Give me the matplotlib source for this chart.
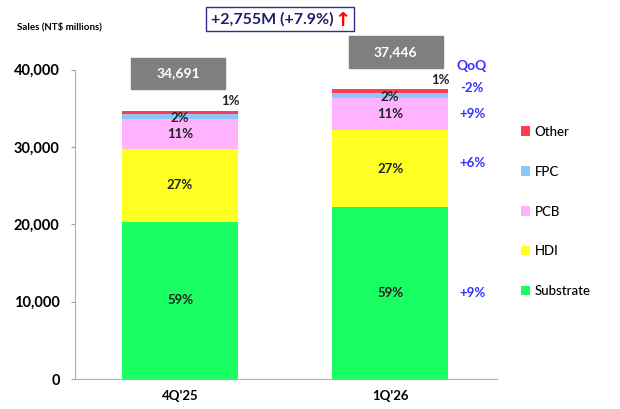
import matplotlib.pyplot as plt
import numpy as np
from matplotlib.patches import Rectangle

plt.rcParams['font.family'] = ['Lato', 'DejaVu Sans']

quarters = ["4Q'25", "1Q'26"]
segments = ['Substrate', 'HDI', 'PCB', 'FPC', 'Other']
colors = ['#19ff62', '#ffff22', '#ffb3ff', '#8ec5ff', '#ff3b50']
q1_vals = [20350, 9400, 3850, 630, 461]     # 4Q'25
q2_vals = [22180, 9960, 4200, 617, 489]     # 1Q'26

data = np.array([q1_vals, q2_vals])
totals = data.sum(axis=1)

fig = plt.figure(figsize=(6.2, 4.09), dpi=100)
ax = fig.add_axes([0.121, 0.0733, 0.681, 0.7567])

x = np.arange(len(quarters))
w = 0.552
bottom = np.zeros(len(quarters))
for i, seg in enumerate(segments):
    ax.bar(x, data[:, i], w, bottom=bottom, color=colors[i], label=seg, zorder=2)
    for j in range(len(quarters)):
        pct = data[j, i] / totals[j] * 100
        mid = bottom[j] + data[j, i] / 2
        if seg == 'Other':
            ax.text(x[j] + 0.24, totals[j] + 1250, '%d%%' % round(pct), ha='center', va='center',
                    fontsize=9.5, fontweight='bold', color='#222222')
        elif seg == 'FPC':
            ax.text(x[j], mid - 150, '%d%%' % round(pct), ha='center', va='center',
                    fontsize=9.5, fontweight='bold', color='#222222')
        else:
            ax.text(x[j], mid, '%d%%' % round(pct), ha='center', va='center',
                    fontsize=9.5, fontweight='bold', color='#222222')
    bottom += data[:, i]

# total boxes above bars
box_dx = [-0.01, 0.026]
for j in range(len(quarters)):
    ax.add_patch(Rectangle((x[j] + box_dx[j] - 0.224, totals[j] + 2750), 0.448, 4100,
                           color='#7f7f7f', clip_on=False, zorder=3))
    ax.text(x[j] + box_dx[j], totals[j] + 2750 + 2050, '{:,}'.format(totals[j]),
            ha='center', va='center', color='white', fontsize=10, fontweight='bold', zorder=4)

# QoQ column
qoq = (data[1] / data[0] - 1) * 100
ax.text(1.39, 40450, 'QoQ', ha='center', va='center', color='#3333ff', fontsize=10,
        fontweight='bold', clip_on=False)
mids = np.cumsum(data[1]) - data[1] / 2
qoq_y = [mids[0], mids[1] + 800, mids[2], totals[1] + 200]
for i in range(4):
    ax.text(1.39, qoq_y[i], '%+d%%' % round(qoq[i]), ha='center', va='center',
            color='#3333ff', fontsize=9.5, fontweight='bold', clip_on=False)

ax.set_xlim(-0.5, 1.51)
ax.set_ylim(0, 40000)
ax.set_xticks(x)
ax.set_xticklabels(quarters, fontsize=9.5, fontweight='bold')
ax.tick_params(axis='x', length=0, pad=8)
ax.set_yticks(np.arange(0, 40001, 10000))
ax.set_yticklabels(['{:,}'.format(v) for v in range(0, 40001, 10000)], fontsize=10.5, fontweight='bold')
ax.tick_params(axis='y', length=3, color='#a0a0a0', pad=8)
for s in ['top', 'right']:
    ax.spines[s].set_visible(False)
for s in ['left', 'bottom']:
    ax.spines[s].set_color('#b0b0b0')

# legend
handles, labels = ax.get_legend_handles_labels()
fig.legend(handles[::-1], labels[::-1], loc='upper left', bbox_to_anchor=(0.84, 0.693),
           frameon=False, handlelength=0.7, handleheight=0.7,
           handletextpad=0.35, labelspacing=2.12, borderpad=0, borderaxespad=0,
           prop={'size': 9.5, 'weight': 'medium'})

fig.text(0.028, 0.934, 'Sales (NT$ millions)', fontsize=7, fontweight='bold', va='center')

diff = totals[1] - totals[0]
growth = diff / totals[0] * 100
fig.add_artist(Rectangle((0.332, 0.924), 0.239, 0.059, transform=fig.transFigure,
                         fc='white', ec='#2e2e8a', lw=1))
fig.text(0.341, 0.953, '+{:,}M (+{:.1f}%)'.format(diff, growth), ha='left', va='center',
         fontsize=11.5, fontweight='bold', color='#1f1f6e')
fig.text(0.552, 0.950, '\u2191', ha='center', va='center', fontsize=14, fontweight='bold',
         color='red', family=['DejaVu Sans'])

fig.savefig('out.png', dpi=100)
